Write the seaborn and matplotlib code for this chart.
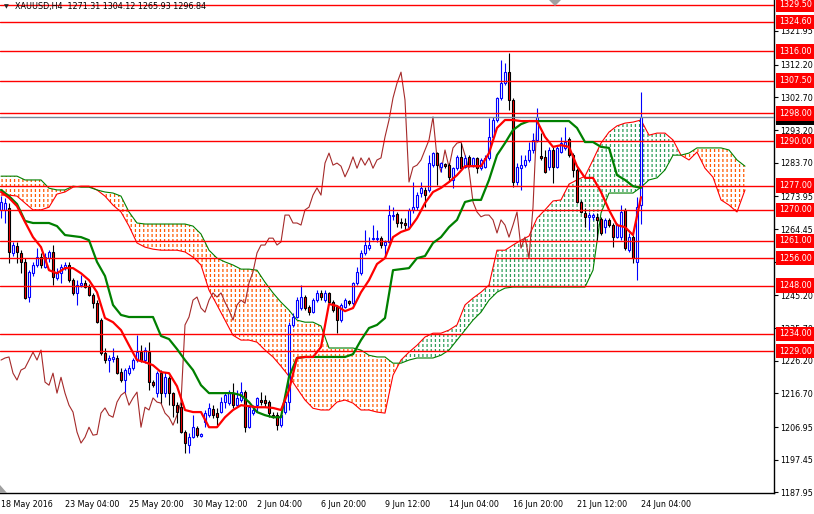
import numpy as np
import matplotlib
matplotlib.use("Agg")
import matplotlib.pyplot as plt
import seaborn as sns
from matplotlib.patches import Polygon
from matplotlib.transforms import IdentityTransform

sns.set_style("white")
plt.rcParams['font.family'] = ['DejaVu Sans']
plt.rcParams['hatch.linewidth'] = 0.9

# XAUUSD H4 candles (18 May - 24 Jun 2016)
opens = [1270.0, 1270.0, 1270.5, 1257.5, 1259.5, 1257.5, 1254.9, 1244.7, 1251.7, 1254.0,
         1256.3, 1253.4, 1256.0, 1257.8, 1250.2, 1251.7, 1253.1, 1254.0, 1249.6, 1245.9,
         1248.2, 1248.8, 1247.6, 1245.3, 1242.9, 1238.0, 1228.4, 1226.4, 1226.7, 1227.0,
         1222.9, 1220.6, 1222.6, 1224.1, 1226.4, 1228.7, 1226.4, 1228.7, 1220.0, 1216.8,
         1222.6, 1216.8, 1221.2, 1216.8, 1213.3, 1212.7, 1205.5, 1201.7, 1204.0, 1206.6,
         1204.4, 1208.4, 1210.4, 1212.2, 1211.0, 1211.3, 1214.2, 1213.9, 1216.8, 1213.3,
         1214.8, 1217.1, 1206.9, 1211.0, 1213.3, 1214.8, 1214.8, 1214.2, 1210.4, 1210.4,
         1207.5, 1211.3, 1214.2, 1236.6, 1238.9, 1241.5, 1244.7, 1241.8, 1240.3, 1243.8,
         1245.9, 1243.8, 1245.9, 1243.2, 1241.8, 1238.0, 1241.8, 1243.5, 1242.9, 1248.8,
         1251.7, 1257.5, 1258.9, 1261.5, 1261.5, 1261.8, 1259.8, 1260.7, 1268.2, 1268.8,
         1266.5, 1266.2, 1265.0, 1270.0, 1270.8, 1274.9, 1275.8, 1275.8, 1283.0, 1286.5,
         1282.4, 1283.3, 1283.0, 1278.7, 1282.1, 1285.4, 1282.4, 1285.4, 1283.0, 1285.1,
         1282.1, 1282.4, 1285.1, 1291.2, 1296.1, 1302.5, 1306.8, 1310.0, 1301.9, 1278.1,
         1282.1, 1283.0, 1284.5, 1287.4, 1290.3, 1285.6, 1285.4, 1282.4, 1287.4, 1282.4,
         1286.8, 1288.0, 1290.6, 1285.9, 1281.6, 1272.3, 1269.1, 1268.0, 1268.0, 1268.0,
         1267.3, 1265.0, 1267.1, 1265.6, 1262.1, 1262.1, 1270.0, 1258.3, 1262.1, 1254.9,
         1271.31]
highs = [1274.0, 1273.5, 1272.0, 1260.7, 1260.7, 1258.3, 1256.0, 1252.5, 1254.9, 1258.9,
         1257.5, 1257.5, 1258.3, 1259.8, 1253.1, 1254.3, 1254.9, 1254.9, 1250.2, 1249.6,
         1251.1, 1249.6, 1248.5, 1245.9, 1243.8, 1238.6, 1229.9, 1227.9, 1229.9, 1227.9,
         1224.1, 1224.1, 1225.0, 1227.0, 1233.7, 1230.7, 1230.2, 1231.6, 1220.6, 1223.2,
         1223.5, 1222.9, 1221.7, 1217.1, 1214.2, 1214.2, 1206.1, 1205.2, 1210.4, 1207.2,
         1205.2, 1211.9, 1213.9, 1213.3, 1212.5, 1215.6, 1217.1, 1217.7, 1219.7, 1217.7,
         1220.0, 1217.7, 1213.3, 1213.3, 1215.6, 1217.1, 1216.2, 1214.8, 1211.3, 1211.3,
         1211.3, 1215.4, 1237.4, 1240.0, 1244.7, 1248.2, 1245.3, 1242.4, 1244.4, 1246.7,
         1246.7, 1246.7, 1246.2, 1243.8, 1242.4, 1242.9, 1244.4, 1243.8, 1249.0, 1253.4,
         1258.3, 1264.2, 1262.1, 1265.6, 1264.2, 1262.4, 1261.2, 1271.4, 1270.8, 1269.4,
         1267.6, 1267.6, 1270.5, 1278.1, 1275.2, 1278.1, 1276.6, 1285.9, 1286.8, 1286.8,
         1283.9, 1283.6, 1283.6, 1282.4, 1285.9, 1289.4, 1285.9, 1285.9, 1285.4, 1285.4,
         1285.1, 1285.9, 1296.7, 1297.0, 1302.8, 1313.5, 1312.6, 1315.6, 1302.5, 1283.6,
         1285.9, 1285.9, 1289.7, 1292.3, 1299.6, 1292.3, 1287.4, 1288.3, 1288.3, 1288.8,
         1291.2, 1294.1, 1291.2, 1286.5, 1282.2, 1272.9, 1270.5, 1269.4, 1269.1, 1269.1,
         1267.9, 1267.6, 1267.6, 1266.2, 1266.2, 1271.4, 1270.5, 1263.3, 1262.7, 1273.7,
         1304.12]
lows = [1267.6, 1266.2, 1254.6, 1256.6, 1254.6, 1251.7, 1244.1, 1243.2, 1250.8, 1253.4,
        1253.1, 1253.1, 1254.9, 1248.2, 1249.6, 1248.8, 1252.5, 1249.0, 1245.3, 1242.4,
        1247.6, 1247.3, 1245.0, 1241.5, 1237.1, 1227.8, 1225.5, 1222.9, 1225.8, 1222.3,
        1220.0, 1217.1, 1222.0, 1223.5, 1225.8, 1225.8, 1225.5, 1217.7, 1218.6, 1215.6,
        1213.9, 1215.6, 1213.3, 1209.8, 1208.1, 1205.2, 1199.4, 1199.4, 1203.7, 1204.0,
        1204.0, 1206.9, 1209.8, 1209.5, 1207.5, 1211.0, 1212.5, 1213.3, 1212.5, 1212.7,
        1214.2, 1205.5, 1206.6, 1210.4, 1211.3, 1213.3, 1212.7, 1209.8, 1209.5, 1206.1,
        1206.9, 1210.7, 1211.9, 1236.0, 1238.6, 1240.9, 1240.9, 1239.5, 1240.0, 1243.2,
        1243.8, 1243.2, 1242.9, 1240.3, 1234.2, 1237.4, 1241.5, 1242.4, 1242.4, 1248.2,
        1251.1, 1256.9, 1258.3, 1261.2, 1260.7, 1258.9, 1256.0, 1260.4, 1267.1, 1265.0,
        1264.7, 1264.2, 1264.7, 1269.1, 1270.0, 1273.7, 1270.8, 1275.2, 1282.4, 1277.2,
        1281.0, 1282.2, 1278.1, 1276.3, 1281.6, 1281.6, 1282.1, 1282.4, 1282.4, 1280.7,
        1281.6, 1282.1, 1284.5, 1290.9, 1295.5, 1301.9, 1306.3, 1299.0, 1276.6, 1277.2,
        1275.8, 1282.4, 1283.9, 1286.5, 1289.7, 1284.5, 1280.7, 1281.6, 1277.8, 1282.1,
        1286.5, 1287.4, 1285.4, 1279.5, 1272.0, 1269.1, 1265.0, 1264.2, 1267.1, 1261.2,
        1262.7, 1263.3, 1265.0, 1259.2, 1261.8, 1261.2, 1258.3, 1257.8, 1254.6, 1249.6,
        1265.93]
closes = [1272.3, 1272.0, 1257.8, 1259.8, 1257.8, 1254.9, 1244.4, 1252.0, 1254.0, 1256.3,
          1254.0, 1256.3, 1257.8, 1250.5, 1252.0, 1253.4, 1254.0, 1249.6, 1245.9, 1248.2,
          1248.8, 1247.6, 1245.3, 1242.9, 1237.4, 1228.4, 1226.4, 1227.0, 1227.3, 1222.6,
          1220.6, 1223.5, 1224.1, 1226.4, 1228.7, 1226.4, 1229.3, 1220.0, 1219.1, 1222.6,
          1216.8, 1221.4, 1216.8, 1213.3, 1211.3, 1205.5, 1202.3, 1204.0, 1206.9, 1204.6,
          1204.8, 1211.0, 1212.5, 1210.4, 1209.8, 1214.2, 1216.2, 1217.1, 1213.3, 1215.4,
          1217.1, 1206.9, 1212.7, 1211.9, 1215.4, 1214.2, 1213.9, 1211.0, 1209.8, 1207.5,
          1210.4, 1214.2, 1236.6, 1238.9, 1243.8, 1244.7, 1241.5, 1240.3, 1243.8, 1245.9,
          1244.7, 1245.9, 1243.2, 1240.9, 1238.0, 1242.4, 1243.8, 1242.9, 1248.8, 1252.0,
          1257.5, 1259.8, 1259.8, 1261.8, 1261.8, 1259.8, 1260.7, 1268.5, 1268.5, 1266.2,
          1266.2, 1265.6, 1270.0, 1270.8, 1274.3, 1276.4, 1274.3, 1283.6, 1286.5, 1283.0,
          1283.6, 1282.7, 1279.6, 1282.1, 1285.4, 1282.1, 1285.1, 1283.0, 1285.1, 1282.1,
          1284.5, 1285.1, 1291.2, 1296.1, 1302.5, 1306.8, 1310.0, 1301.9, 1278.1, 1282.4,
          1283.0, 1284.5, 1287.4, 1290.3, 1297.0, 1285.1, 1281.0, 1287.4, 1282.4, 1288.0,
          1289.4, 1289.7, 1285.9, 1281.6, 1272.3, 1269.4, 1268.0, 1268.5, 1268.5, 1267.1,
          1263.3, 1267.1, 1265.6, 1262.1, 1265.6, 1269.4, 1258.9, 1262.1, 1256.0, 1270.8,
          1296.84]

# Ichimoku lines, one value every 2 bars
tenkan = [1275.2, 1273.5, 1271.1, 1266.5, 1262.1, 1259.2, 1252.5, 1251.6, 1253.1, 1253.1,
          1251.6, 1249.6, 1246.1, 1238.6, 1237.4, 1235.1, 1230.7, 1226.4, 1225.8, 1224.9,
          1222.9, 1222.6, 1218.8, 1211.9, 1211.3, 1211.3, 1206.9, 1206.9, 1209.8, 1211.9,
          1213.3, 1213.0, 1212.7, 1212.7, 1212.5, 1211.9, 1217.7, 1227.0, 1227.3, 1227.3,
          1230.2, 1242.7, 1242.1, 1240.6, 1241.5, 1246.1, 1249.6, 1254.3, 1256.0, 1262.1,
          1263.6, 1264.4, 1267.6, 1272.0, 1275.2, 1276.4, 1278.1, 1280.1, 1282.7, 1282.7,
          1282.7, 1286.5, 1293.8, 1296.1, 1296.1, 1295.8, 1295.8, 1295.8, 1291.2, 1288.3,
          1288.8, 1288.3, 1282.7, 1279.3, 1279.3, 1275.2, 1270.0, 1265.6, 1265.0, 1262.7,
          1273.7]
kijun = [1275.8, 1274.0, 1271.7, 1266.8, 1266.2, 1266.2, 1266.2, 1265.3, 1262.7, 1262.4,
         1262.1, 1261.2, 1254.9, 1250.8, 1242.4, 1239.5, 1238.9, 1238.9, 1238.9, 1238.9,
         1233.4, 1232.5, 1229.6, 1226.4, 1223.5, 1219.1, 1216.8, 1216.8, 1216.8, 1216.8,
         1216.2, 1214.2, 1211.3, 1210.4, 1209.8, 1209.8, 1221.5, 1227.0, 1227.3, 1227.3,
         1227.3, 1227.3, 1227.3, 1227.3, 1228.1, 1232.2, 1235.7, 1236.6, 1238.6, 1252.5,
         1252.8, 1253.1, 1256.0, 1256.6, 1260.4, 1262.1, 1265.0, 1267.1, 1272.3, 1272.9,
         1272.9, 1278.7, 1285.9, 1289.4, 1293.2, 1294.9, 1295.8, 1295.8, 1295.8, 1295.8,
         1295.8, 1295.8, 1293.8, 1289.7, 1289.7, 1288.3, 1288.0, 1280.1, 1278.7, 1276.9,
         1276.4]
span_a = [1274.3, 1274.3, 1274.0, 1272.0, 1270.0, 1270.0, 1270.8, 1274.6, 1275.2, 1276.6,
          1276.9, 1276.9, 1275.8, 1274.0, 1271.4, 1269.4, 1265.3, 1260.4, 1259.2, 1258.6,
          1258.3, 1258.3, 1258.3, 1257.8, 1256.3, 1254.0, 1246.7, 1242.4, 1238.0, 1233.6,
          1232.2, 1232.2, 1231.6, 1229.3, 1227.3, 1224.6, 1221.7, 1218.2, 1214.8, 1212.4,
          1211.9, 1211.9, 1214.2, 1214.8, 1213.9, 1211.9, 1211.9, 1211.3, 1211.0, 1222.0,
          1226.4, 1228.7, 1230.7, 1233.1, 1234.2, 1234.2, 1235.1, 1236.6, 1242.4, 1244.4,
          1246.1, 1248.2, 1258.3, 1258.3, 1259.8, 1261.2, 1262.4, 1267.6, 1270.0, 1272.6,
          1272.9, 1277.5, 1278.7, 1279.8, 1284.5, 1289.4, 1292.6, 1294.4, 1295.2, 1295.5,
          1296.1, 1291.7, 1292.3, 1292.3, 1290.3, 1285.9, 1284.5, 1286.8, 1282.1, 1279.5,
          1272.9, 1271.4, 1269.4, 1275.8]
span_b = [1279.8, 1279.8, 1279.8, 1278.7, 1278.7, 1278.7, 1276.3, 1275.8, 1275.8, 1276.9,
          1276.6, 1276.6, 1275.8, 1275.2, 1274.9, 1274.0, 1269.4, 1266.2, 1265.9, 1265.9,
          1265.9, 1265.9, 1265.9, 1265.9, 1265.3, 1263.0, 1258.3, 1256.0, 1254.9, 1254.0,
          1252.8, 1252.8, 1252.5, 1249.0, 1245.9, 1243.2, 1240.9, 1238.0, 1237.4, 1237.4,
          1236.3, 1229.9, 1229.9, 1229.9, 1229.9, 1229.3, 1227.8, 1227.3, 1227.3, 1225.5,
          1225.5, 1226.4, 1227.0, 1227.0, 1227.0, 1227.8, 1229.3, 1232.2, 1235.1, 1238.0,
          1240.3, 1243.8, 1246.1, 1247.3, 1247.6, 1247.6, 1247.6, 1247.6, 1247.6, 1247.6,
          1247.6, 1247.6, 1247.6, 1247.6, 1252.5, 1269.1, 1274.9, 1274.9, 1274.9, 1274.9,
          1276.6, 1278.7, 1279.3, 1281.6, 1285.9, 1285.9, 1286.5, 1288.0, 1288.0, 1288.0,
          1288.0, 1287.4, 1284.5, 1282.7]

levels = [1329.50, 1324.60, 1316.00, 1307.50, 1298.00, 1290.00, 1277.00,
          1270.00, 1261.00, 1256.00, 1248.00, 1234.00, 1229.00]
last_price = 1296.84
price_ticks = [1321.95, 1312.20, 1302.70, 1293.20, 1283.70, 1273.95, 1264.45, 1254.95,
               1245.20, 1235.70, 1226.20, 1216.70, 1206.95, 1197.45, 1187.95]
time_labels = ["18 May 2016", "23 May 04:00", "25 May 20:00", "30 May 12:00",
               "2 Jun 04:00", "6 Jun 20:00", "9 Jun 12:00", "14 Jun 04:00",
               "16 Jun 20:00", "21 Jun 12:00", "24 Jun 04:00"]
time_bars = list(range(0, 161, 16))

opens, highs, lows, closes = map(np.array, (opens, highs, lows, closes))
span_a, span_b = np.array(span_a), np.array(span_b)
bars = np.arange(len(closes))
line_bars = np.arange(0, len(closes), 2)
span_bars = np.arange(0, len(closes) + 26, 2)

fs = 5.8
YMIN, YMAX = 1187.8, 1330.95
PX = (YMAX - YMIN) / 493.0  # price units per pixel

fig = plt.figure(figsize=(8.14, 5.14), dpi=100)
ax = fig.add_axes([0, 21 / 514, 774 / 814, 493 / 514])
ax.set_xlim(-0.25, 193.25)
ax.set_ylim(YMIN, YMAX)

# cloud: vertical hatch between the spans (orange when B above A, green otherwise)
ax.fill_between(span_bars, span_a, span_b, where=span_b >= span_a, interpolate=True,
                facecolor="none", edgecolor="#ff5a00", linewidth=0, hatch="||||", zorder=1)
ax.fill_between(span_bars, span_a, span_b, where=span_a >= span_b, interpolate=True,
                facecolor="none", edgecolor="#2e9e5b", linewidth=0, hatch="||||", zorder=1)
# white horizontal breaks turn the hatch into dotted strokes
ax.hlines(np.arange(YMIN, YMAX, 5 * PX), -1, 195, colors="white",
          linewidth=1.4, zorder=1.2, antialiased=False)

sns.lineplot(x=span_bars, y=span_a, ax=ax, color="#ff0000", linewidth=0.8,
             estimator=None, sort=False, legend=False, zorder=2)
sns.lineplot(x=span_bars, y=span_b, ax=ax, color="#008000", linewidth=0.8,
             estimator=None, sort=False, legend=False, zorder=2)

# chikou span = closes plotted 26 bars back
sns.lineplot(x=bars[:-26], y=closes[26:], ax=ax, color="#a52a2a", linewidth=0.8,
             estimator=None, sort=False, legend=False, zorder=2)

# candles
bull = closes >= opens
bear = ~bull
ax.vlines(bars[bull], lows[bull], highs[bull], colors="#0000ff", linewidth=0.8, zorder=3)
ax.vlines(bars[bear], lows[bear], highs[bear], colors="black", linewidth=0.8, zorder=3)
ax.bar(bars[bull], (closes - opens)[bull], bottom=opens[bull], width=0.55,
       color="white", edgecolor="#0000ff", linewidth=0.8, zorder=3.5)
ax.bar(bars[bear], (opens - closes)[bear], bottom=closes[bear], width=0.55,
       color="#ff0000", edgecolor="black", linewidth=0.8, zorder=3.5)

# horizontal levels
for lv in levels:
    ax.axhline(lv, color="#ff0000", linewidth=1, zorder=4)
ax.axhline(last_price, color="#778899", linewidth=1, zorder=4)

sns.lineplot(x=line_bars, y=kijun, ax=ax, color="#008000", linewidth=1.6,
             estimator=None, sort=False, legend=False, zorder=5)
sns.lineplot(x=line_bars, y=tenkan, ax=ax, color="#ff0000", linewidth=1.6,
             estimator=None, sort=False, legend=False, zorder=5)

# axes styling
for side in ["top", "left"]:
    ax.spines[side].set_visible(False)
for side in ["right", "bottom"]:
    ax.spines[side].set_color("black")
    ax.spines[side].set_linewidth(1)
ax.yaxis.tick_right()
ax.set_yticks(price_ticks)
ax.set_yticklabels([f"{v:.2f}" for v in price_ticks])
ax.set_xticks(time_bars)
ax.set_xticklabels(time_labels, ha="left")
ax.tick_params(axis="y", direction="out", length=3, width=0.8, pad=1.2,
               labelsize=fs, colors="black")
ax.tick_params(axis="x", direction="out", length=3, width=0.8, pad=2,
               labelsize=fs, colors="black")
ax.set_xlabel("")
ax.set_ylabel("")

trans = ax.get_yaxis_transform()
box_x = 1 + 4.8 / 774
ax.text(box_x, last_price, f"{last_price:.2f}", transform=trans, ha="left", va="center",
        fontsize=fs, color="white", clip_on=False, zorder=19,
        bbox=dict(boxstyle="square,pad=0.35", fc="black", ec="none"))
for lv in levels:
    ax.text(box_x, lv, f"{lv:.2f}", transform=trans, ha="left", va="center",
            fontsize=fs, color="white", clip_on=False, zorder=20,
            bbox=dict(boxstyle="square,pad=0.35", fc="#ff0000", ec="none"))

fig.text(4 / 814, 1 - 7 / 514, "\u25bc", fontsize=4.5, va="center", ha="left")
fig.text(15 / 814, 1 - 7 / 514, "XAUUSD,H4  1271.31 1304.12 1265.93 1296.84",
         fontsize=fs, va="center", ha="left", color="black")

# chart shift markers
fig.patches.append(Polygon([[549, 514], [561, 514], [555, 508]], closed=True,
                           transform=IdentityTransform(), fc="#a0a0a0", ec="none"))
fig.patches.append(Polygon([[0, 21], [0, 29], [7, 21]], closed=True,
                           transform=IdentityTransform(), fc="#a0a0a0", ec="none"))

fig.savefig("out.png", dpi=100, facecolor="white")
